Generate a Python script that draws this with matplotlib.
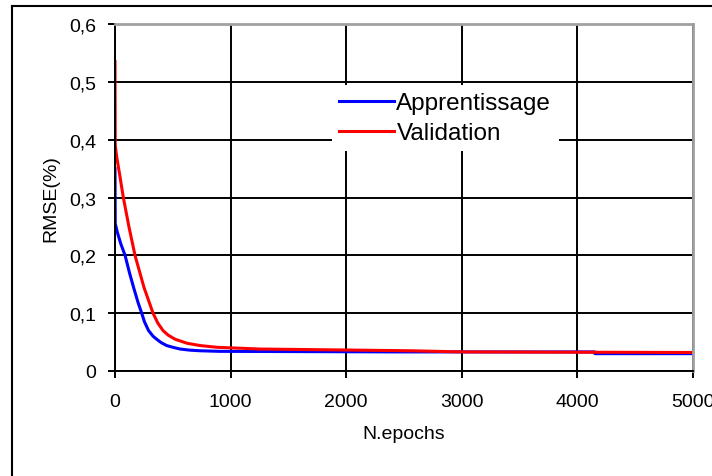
import matplotlib
matplotlib.use("Agg")
import matplotlib.pyplot as plt
from matplotlib.lines import Line2D

plt.rcParams['font.family'] = ['Liberation Sans', 'DejaVu Sans']

# Training curve (Apprentissage)
train_epochs = [0, 2, 20, 50, 87, 125, 160, 200, 231, 255, 290, 330, 360, 400, 447, 500,
                562, 650, 735, 900, 2422, 4150, 4152, 5000]
train_rmse = [0.35, 0.255, 0.24, 0.22, 0.20, 0.17, 0.145, 0.118, 0.10, 0.085, 0.070, 0.060,
              0.055, 0.049, 0.044, 0.041, 0.038, 0.036, 0.035, 0.034, 0.033, 0.033,
              0.030, 0.030]

# Validation curve
val_epochs = [0, 2, 15, 40, 72, 120, 173, 250, 329, 370, 415, 460, 519, 623, 735, 882,
              1254, 2552, 3000, 5000]
val_rmse = [0.535, 0.39, 0.37, 0.34, 0.30, 0.25, 0.20, 0.145, 0.10, 0.083, 0.070, 0.062,
            0.055, 0.048, 0.044, 0.041, 0.038, 0.035, 0.033, 0.032]

x_ticks = [0, 1000, 2000, 3000, 4000, 5000]
y_ticks = [0.0, 0.1, 0.2, 0.3, 0.4, 0.5, 0.6]
y_tick_labels = ['0', '0,1', '0,2', '0,3', '0,4', '0,5', '0,6']

W, H = 712, 477
fig = plt.figure(figsize=(W / 100, H / 100), dpi=100)
ax = fig.add_axes([115 / W, 1 - 372 / H, (693 - 115) / W, (372 - 25) / H])

ax.plot(train_epochs, train_rmse, color='#0000ff', lw=2.2, label='Apprentissage', zorder=3)
ax.plot(val_epochs, val_rmse, color='#ff0000', lw=2.2, label='Validation', zorder=4)

ax.set_xlim(0, 5000)
ax.set_ylim(0, 0.6)
ax.set_xticks(x_ticks)
ax.set_yticks(y_ticks)
ax.set_yticklabels(y_tick_labels)

ax.grid(True, color='black', lw=1.4)
ax.set_axisbelow(True)
for side in ('top', 'right'):
    ax.spines[side].set_color('#a0a0a0')
    ax.spines[side].set_linewidth(2)
for side in ('left', 'bottom'):
    ax.spines[side].set_color('black')
    ax.spines[side].set_linewidth(1.4)
for s in ax.spines.values():
    s.set_zorder(5)

ax.tick_params(axis='x', direction='out', length=5, width=1.4, pad=10.5,
               labelsize=14, colors='black')
ax.tick_params(axis='y', direction='out', length=5, width=1.4, pad=8.5,
               labelsize=14, colors='black')

ax.set_xlabel('N.epochs', fontsize=14, labelpad=11)
ax.set_ylabel('RMSE(%)', fontsize=14, labelpad=7)

leg = ax.legend(loc='upper left', bbox_to_anchor=(332 / W, 1 - 86 / H),
                bbox_transform=fig.transFigure, fontsize=17.5, frameon=True,
                fancybox=False, facecolor='white', edgecolor='none', framealpha=1,
                borderpad=0.3, borderaxespad=0, handlelength=2.25, handletextpad=0.1,
                labelspacing=0.32)
leg.set_zorder(6)

# Outer chart frame (left and top edges)
fig.add_artist(Line2D([12 / W, 12 / W], [0, 1 - 7 / H], color='black', lw=1.5,
                      transform=fig.transFigure))
fig.add_artist(Line2D([12 / W, 1], [1 - 7 / H, 1 - 7 / H], color='black', lw=1.5,
                      transform=fig.transFigure))

fig.savefig('out.png', dpi=100, facecolor='white')
